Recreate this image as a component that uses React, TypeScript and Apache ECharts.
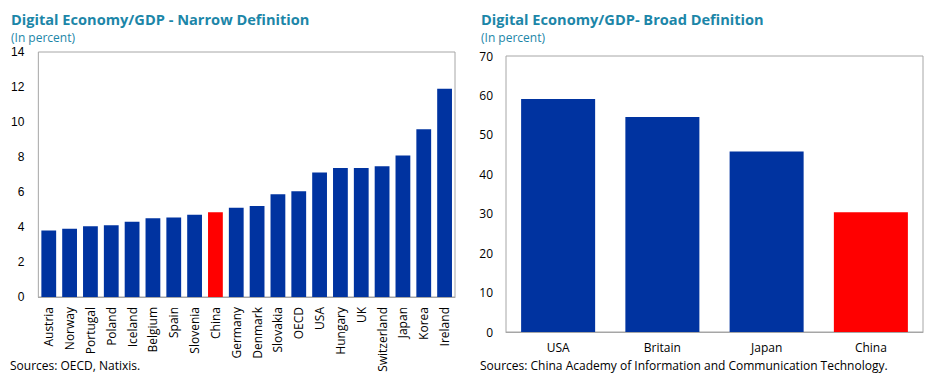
import React, { useEffect, useRef } from "react";
import * as echarts from "echarts";

const narrowCategories = ["Austria", "Norway", "Portugal", "Poland", "Iceland", "Belgium", "Spain", "Slovenia", "China", "Germany", "Denmark", "Slovakia", "OECD", "USA", "Hungary", "UK", "Switzerland", "Japan", "Korea", "Ireland"];
const narrowValues = [3.8, 3.9, 4.05, 4.1, 4.3, 4.5, 4.55, 4.7, 4.85, 5.1, 5.2, 5.87, 6.04, 7.12, 7.37, 7.37, 7.47, 8.09, 9.58, 11.9];
const broadCategories = ["USA", "Britain", "Japan", "China"];
const broadValues = [59.1, 54.5, 45.8, 30.4];
const highlight = "China";

const BLUE = "#0033A0";
const RED = "#FF0000";
const TEAL = "#1C86A8";
const BORDER = "#A6A6A6";

export default function App() {
  const ref = useRef<HTMLDivElement>(null);
  useEffect(() => {
    const chart = echarts.init(ref.current!, null, { renderer: "svg" });
    const color = (cats: string[]) => (p: any) => (cats[p.dataIndex] === highlight ? RED : BLUE);
    const t = (text: string, left: number, top: number, size: number, bold: boolean, c: string) => ({
      text, left, top, padding: 0,
      textStyle: { fontFamily: "Open Sans", fontWeight: bold ? "bold" : "normal", fontSize: size, lineHeight: size + 1, color: c },
    });
    chart.setOption({
      animation: false,
      backgroundColor: "#fff",
      title: [
        t("Digital Economy/GDP - Narrow Definition", 3, 3, 14.6, true, TEAL),
        t("(In percent)", 3, 23, 12, false, TEAL),
        t("Digital Economy/GDP- Broad Definition", 473, 3, 14.6, true, TEAL),
        t("(In percent)", 473, 23, 12, false, TEAL),
        t("Sources: OECD, Natixis.", 2, 351, 12, false, "#000"),
        t("Sources: China Academy of Information and Communication Technology.", 472, 351, 12, false, "#000"),
      ],
      grid: [
        { left: 27, top: 44, width: 420, height: 245, show: true, borderColor: BORDER, borderWidth: 1, containLabel: false },
        { left: 498, top: 48, width: 417, height: 276, show: true, borderColor: BORDER, borderWidth: 1, containLabel: false },
      ],
      xAxis: [
        {
          type: "category", gridIndex: 0, data: narrowCategories,
          axisLine: { lineStyle: { color: BORDER } }, axisTick: { show: false },
          axisLabel: { rotate: 90, interval: 0, margin: 10, fontFamily: "Open Sans", fontSize: 12, color: "#000" },
        },
        {
          type: "category", gridIndex: 1, data: broadCategories,
          axisLine: { lineStyle: { color: BORDER } }, axisTick: { show: false },
          axisLabel: { interval: 0, margin: 9, fontFamily: "Open Sans", fontSize: 12, lineHeight: 13, color: "#000" },
        },
      ],
      yAxis: [
        {
          type: "value", gridIndex: 0, min: 0, max: 14, interval: 2,
          splitLine: { show: false }, axisLine: { show: false }, axisTick: { show: false },
          axisLabel: { margin: 14, fontFamily: "Liberation Sans", fontSize: 12, color: "#000" },
        },
        {
          type: "value", gridIndex: 1, min: 0, max: 70, interval: 10,
          splitLine: { show: false }, axisLine: { show: false }, axisTick: { show: false },
          axisLabel: { margin: 13, fontFamily: "Open Sans", fontSize: 12, color: "#000" },
        },
      ],
      series: [
        {
          type: "bar", xAxisIndex: 0, yAxisIndex: 0, data: narrowValues, barCategoryGap: "29%",
          itemStyle: { color: color(narrowCategories) },
        },
        {
          type: "bar", xAxisIndex: 1, yAxisIndex: 1, data: broadValues, barCategoryGap: "29%",
          itemStyle: { color: color(broadCategories) },
        },
      ],
    });
    return () => chart.dispose();
  }, []);
  return <div ref={ref} style={{ width: 924, height: 374 }} />;
}
